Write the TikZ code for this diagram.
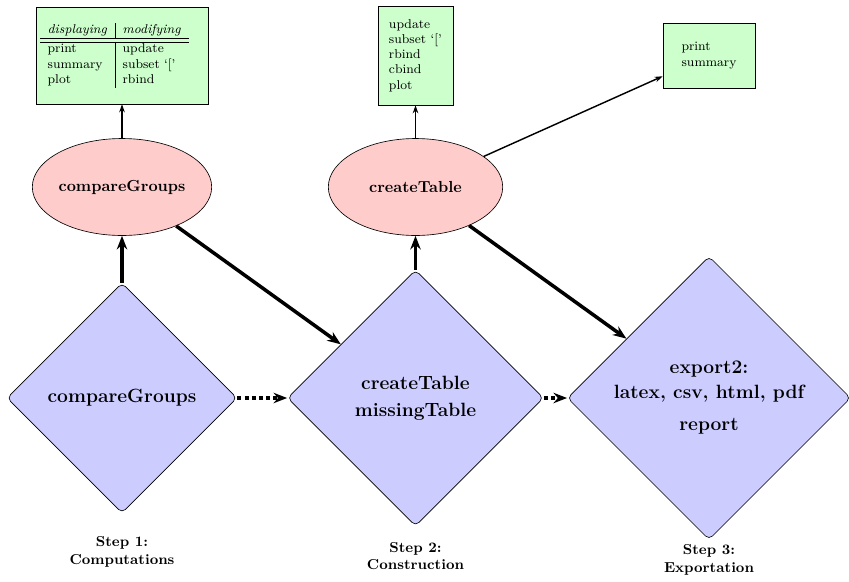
\documentclass[tikz,border=0pt]{standalone}
\usetikzlibrary{shapes.geometric,arrows.meta}
\begin{document}
\begin{tikzpicture}[x=0.625pt,y=-0.625pt,
  dia/.style={diamond, draw, fill=blue!20, rounded corners=3pt, inner sep=0pt, font=\large\bfseries, align=center},
  ell/.style={ellipse, draw, fill=red!20, minimum width=109pt, minimum height=60.6pt, inner sep=0pt, font=\bfseries},
  box/.style={rectangle, draw, fill=green!20, font=\footnotesize, align=left, inner sep=0pt},
  thinarr/.style={-{Stealth[length=5pt,width=3.5pt]}, line width=0.9pt},
  thickarr/.style={-{Stealth[length=8.5pt,width=6.5pt]}, line width=2.2pt},
  dotarr/.style={-{Stealth[length=8.5pt,width=6.5pt]}, line width=2.2pt, dash pattern=on 2.5pt off 2pt},
  steplabel/.style={font=\small\bfseries, align=center, inner sep=0pt}]
\useasboundingbox (0,0) rectangle (849,581);
% boxes
\node[box, minimum width=107.5pt, minimum height=60.6pt, text width=102.5pt, inner xsep=2.5pt] (b1) at (122,55.5)
  {\setlength{\tabcolsep}{4.8pt}\begin{tabular}{l|l}
   \textit{displaying} & \textit{modifying}\\ \hline\hline
   print & update\\
   summary & subset `['\\
   plot & rbind
   \end{tabular}};
\node[box, minimum width=46.9pt, minimum height=61.9pt] (b2) at (415.5,55.5)
  {update\\subset `['\\rbind\\cbind\\plot};
\node[box, minimum width=57.5pt, minimum height=40.6pt] (b3) at (709,55.5)
  {print\\summary};
% ellipses
\node[ell] (e1) at (122,187) {compareGroups};
\node[ell] (e2) at (415.5,187) {createTable};
% diamonds
\node[dia, minimum width=143.75pt, minimum height=143.75pt] (d1) at (122,398) {compareGroups};
\node[dia, minimum width=160pt, minimum height=160pt] (d2) at (415.5,398) {createTable\\[3pt]missingTable};
\node[dia, minimum width=177pt, minimum height=177pt] (d3) at (709,398) {export2:\\[1.6pt]latex, csv, html, pdf\\[6pt]report};
% step labels
\node[steplabel] (s1) at (122,552) {Step 1:\\Computations};
\node[steplabel] (s2) at (415.5,556) {Step 2:\\Construction};
\node[steplabel] (s3) at (709,560) {Step 3:\\Exportation};
% connectors
\draw[thickarr] (d1) -- (e1);
\draw[thinarr] (e1) -- (b1);
\draw[thickarr] (e1) -- (d2);
\draw[thickarr] (d2) -- (e2);
\draw[thinarr] (e2) -- (b2);
\draw[thinarr] (e2) -- (b3);
\draw[thickarr] (e2) -- (d3);
\draw[dotarr] (d1) -- (d2);
\draw[dotarr] (d2) -- (d3);
\end{tikzpicture}
\end{document}
